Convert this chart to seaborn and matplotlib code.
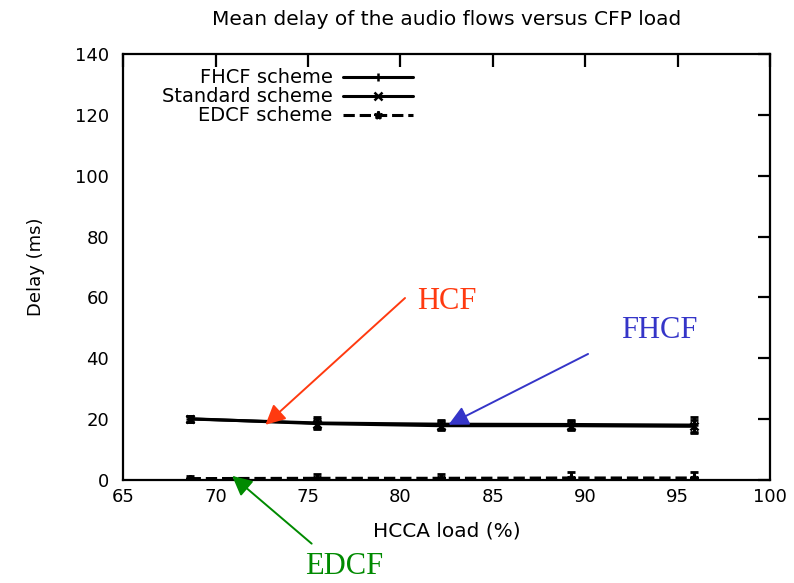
import matplotlib
matplotlib.use("Agg")
import matplotlib.pyplot as plt
import seaborn as sns
import pandas as pd

# HCCA load (%) and mean delay (ms)
load = [68.6, 75.5, 82.2, 89.2, 95.9]
fhcf_delay = [20.0, 18.7, 18.3, 18.2, 18.0]
fhcf_err = [1.0, 2.0, 1.5, 1.5, 2.5]
standard_delay = [20.1, 18.5, 17.8, 17.8, 17.6]
standard_err = [1.0, 1.5, 1.5, 1.5, 2.0]
edcf_delay = [0.4, 0.5, 0.5, 0.6, 0.6]
edcf_err = [1.0, 1.5, 1.5, 2.0, 2.0]

x_ticks = [65, 70, 75, 80, 85, 90, 95, 100]
y_ticks = [0, 20, 40, 60, 80, 100, 120, 140]

sns.set_theme(style="white")
plt.rcParams["font.family"] = ["DejaVu Sans"]
plt.rcParams["font.size"] = 13
plt.rcParams["text.color"] = "black"
plt.rcParams["axes.labelcolor"] = "black"
plt.rcParams["axes.titlecolor"] = "black"

fig, ax = plt.subplots(figsize=(7.94, 5.83), dpi=100)
fig.subplots_adjust(left=0.155, right=0.970, bottom=0.177, top=0.907)

series = [
    ("FHCF scheme", fhcf_delay, fhcf_err, "-", "+"),
    ("Standard scheme", standard_delay, standard_err, "-", "x"),
    ("EDCF scheme", edcf_delay, edcf_err, "--", "*"),
]

for name, delay, err, ls, mk in series:
    df = pd.DataFrame({"load": load, "delay": delay})
    sns.lineplot(data=df, x="load", y="delay", ax=ax, color="black",
                 linewidth=2.2, linestyle=ls, marker=mk, markersize=6,
                 markeredgewidth=1.8, markeredgecolor="black",
                 markerfacecolor="black", label=name)
    ax.errorbar(load, delay, yerr=err, fmt="none", ecolor="black",
                elinewidth=2, capsize=3, capthick=2)

ax.set_xlim(65, 100)
ax.set_ylim(0, 140)
ax.set_xticks(x_ticks)
ax.set_yticks(y_ticks)
for s in ax.spines.values():
    s.set_visible(True)
    s.set_linewidth(1.6)
    s.set_color("black")
ax.tick_params(direction="in", length=9, width=1.6, top=True, right=True,
               labelsize=13, colors="black")
ax.tick_params(axis="x", pad=6)
ax.tick_params(axis="y", pad=10)

ax.set_xlabel("HCCA load (%)", fontsize=14.5, labelpad=11)
ax.set_ylabel("Delay (ms)", fontsize=13, labelpad=22)
ax.set_title("Mean delay of the audio flows versus CFP load", fontsize=14.5, pad=21)

leg = ax.legend(loc="upper left", bbox_to_anchor=(0.048, 0.985), frameon=False,
                markerfirst=False, handlelength=3.6, handletextpad=0.55,
                labelspacing=0.0, fontsize=14, borderaxespad=0)

# coloured call-outs
arrow_kw = dict(arrowstyle="-|>,head_length=0.6,head_width=0.3", lw=1.4,
                mutation_scale=20, shrinkA=0, shrinkB=0)
ax.annotate("", xy=(72.7, 18.1), xytext=(80.25, 59.8),
            arrowprops=dict(color="#ff3a10", **arrow_kw))
ax.text(82.5, 58.5, "HCF", color="#ff3a10", fontsize=22,
        family="Liberation Serif", ha="center", va="center")

ax.annotate("", xy=(82.6, 18.1), xytext=(90.15, 41.4),
            arrowprops=dict(color="#3535c8", **arrow_kw))
ax.text(94.0, 49.0, "FHCF", color="#3535c8", fontsize=22,
        family="Liberation Serif", ha="center", va="center")

ax.annotate("", xy=(70.9, 1.3), xytext=(75.2, -21.0), annotation_clip=False,
            arrowprops=dict(color="#008a00", **arrow_kw))
ax.text(76.95, -28.6, "EDCF", color="#008a00", fontsize=22,
        family="Liberation Serif", ha="center", va="center", clip_on=False)

fig.savefig("out.png", dpi=100)
